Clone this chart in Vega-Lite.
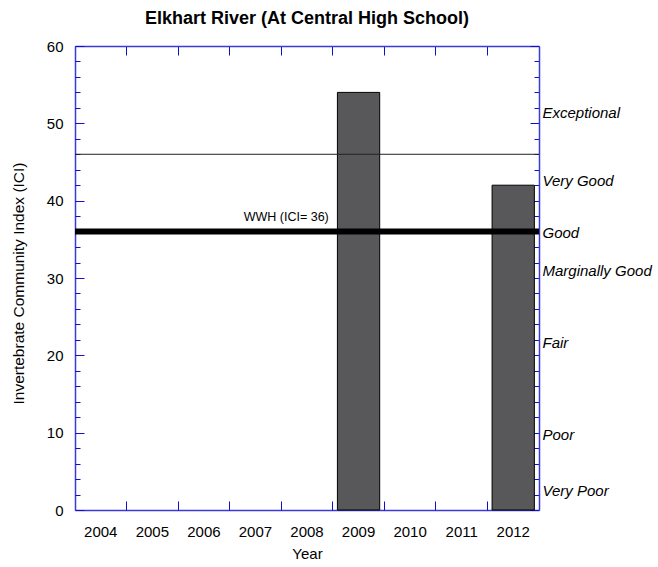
{
  "$schema": "https://vega.github.io/schema/vega-lite/v6.json",
  "width": 464,
  "height": 464,
  "autosize": "none",
  "padding": {"left": 75, "top": 46, "right": 119, "bottom": 57},
  "background": "white",
  "config": {
    "font": "Liberation Sans",
    "view": {"stroke": null},
    "axis": {"grid": false, "labelColor": "black", "titleColor": "black", "labelFont": "Liberation Sans", "titleFont": "Liberation Sans", "titleFontWeight": "normal", "domainColor": "#3a3ad6", "tickColor": "#1010cc", "domainWidth": 1.5, "tickWidth": 1}
  },
  "title": {"text": "Elkhart River (At Central High School)", "fontSize": 18, "fontWeight": "bold", "font": "Liberation Sans", "anchor": "middle", "offset": 11, "color": "black"},
  "datasets": {
    "bars": [
      {"year": "2004", "ici": null},
      {"year": "2005", "ici": null},
      {"year": "2006", "ici": null},
      {"year": "2007", "ici": null},
      {"year": "2008", "ici": null},
      {"year": "2009", "ici": 54},
      {"year": "2010", "ici": null},
      {"year": "2011", "ici": null},
      {"year": "2012", "ici": 42}
    ],
    "lines": [
      {"year": "2009", "ici": 36, "label": "WWH (ICI= 36)"}
    ]
  },
  "resolve": {"axis": {"x": "independent", "y": "independent"}},
  "layer": [
    {
      "data": {"name": "bars"},
      "mark": {"type": "bar", "fill": "#58585a", "stroke": "black", "strokeWidth": 1, "width": {"band": 0.82}},
      "encoding": {
        "x": {"field": "year", "type": "ordinal", "sort": null,
          "scale": {"type": "band", "paddingInner": 0, "paddingOuter": 0, "domain": ["2004", "2005", "2006", "2007", "2008", "2009", "2010", "2011", "2012"]},
          "axis": {"orient": "bottom", "title": "Year", "ticks": false, "domain": true, "labelAngle": 0, "labelFontSize": 15, "labelPadding": 14, "titleFontSize": 15, "titlePadding": 7}},
        "y": {"field": "ici", "type": "quantitative",
          "scale": {"domain": [0, 60], "nice": false, "zero": true},
          "axis": {"orient": "left", "title": "Invertebrate Community Index (ICI)", "values": [0, 10, 20, 30, 40, 50, 60], "ticks": false, "domain": true, "labelFontSize": 15, "labelPadding": 12, "titleFontSize": 15.5, "titlePadding": 20, "titleY": 237}}
      }
    },
    {
      "data": {"name": "bars"},
      "mark": {"type": "bar", "opacity": 0, "width": {"band": 0.82}},
      "encoding": {
        "x": {"field": "year", "type": "ordinal", "sort": null,
          "scale": {"type": "band", "paddingInner": 0, "paddingOuter": 0},
          "axis": {"orient": "bottom", "title": null, "labels": false, "domain": false, "ticks": true, "bandPosition": 0, "tickSize": -9}},
        "y": {"field": "ici", "type": "quantitative",
          "axis": {"orient": "left", "title": null, "labels": false, "domain": false, "values": [0,2,4,6,8,10,12,14,16,18,20,22,24,26,28,30,32,34,36,38,40,42,44,46,48,50,52,54,56,58,60],
            "tickSize": {"condition": {"test": "datum.value % 10 === 0", "value": -9}, "value": -5}}}
      }
    },
    {
      "data": {"name": "bars"},
      "mark": {"type": "bar", "opacity": 0, "width": {"band": 0.82}},
      "encoding": {
        "x": {"field": "year", "type": "ordinal", "sort": null,
          "scale": {"type": "band", "paddingInner": 0, "paddingOuter": 0},
          "axis": {"orient": "top", "title": null, "labels": false, "domain": true, "ticks": true, "bandPosition": 0, "tickSize": -9}},
        "y": {"field": "ici", "type": "quantitative",
          "axis": {"orient": "right", "title": null, "labels": false, "domain": true, "values": [0,2,4,6,8,10,12,14,16,18,20,22,24,26,28,30,32,34,36,38,40,42,44,46,48,50,52,54,56,58,60],
            "tickSize": {"condition": {"test": "datum.value % 10 === 0", "value": -9}, "value": -5}}}
      }
    },
    {
      "data": {"name": "bars"},
      "mark": {"type": "bar", "opacity": 0, "width": {"band": 0.82}},
      "encoding": {
        "x": {"field": "year", "type": "ordinal", "sort": null, "axis": null,
          "scale": {"type": "band", "paddingInner": 0, "paddingOuter": 0}},
        "y": {"field": "ici", "type": "quantitative",
          "axis": {"orient": "right", "title": null, "ticks": false, "domain": false,
            "values": [51.4, 42.6, 35.9, 31.0, 21.6, 9.7, 2.5],
            "labelExpr": "datum.value == 51.4 ? 'Exceptional' : datum.value == 42.6 ? 'Very Good' : datum.value == 35.9 ? 'Good' : datum.value == 31 ? 'Marginally Good' : datum.value == 21.6 ? 'Fair' : datum.value == 9.7 ? 'Poor' : 'Very Poor'",
            "labelFontSize": 15, "labelFontStyle": "italic", "labelPadding": 3, "labelAlign": "left", "labelBaseline": "middle"}}
      }
    },
    {
      "data": {"values": [{"ici": 46}]},
      "mark": {"type": "rule", "color": "#222222", "strokeWidth": 1},
      "encoding": {"y": {"field": "ici", "type": "quantitative", "axis": null}}
    },
    {
      "data": {"name": "lines"},
      "mark": {"type": "rule", "color": "black", "strokeWidth": 6},
      "encoding": {"y": {"field": "ici", "type": "quantitative", "axis": null}}
    },
    {
      "data": {"name": "lines"},
      "mark": {"type": "text", "align": "right", "baseline": "bottom", "fontSize": 12.5, "dx": -4, "dy": -8, "color": "black", "font": "Liberation Sans"},
      "encoding": {
        "x": {"field": "year", "type": "ordinal", "bandPosition": 0, "axis": null,
          "scale": {"type": "band", "paddingInner": 0, "paddingOuter": 0}},
        "y": {"field": "ici", "type": "quantitative", "axis": null},
        "text": {"field": "label"}
      }
    }
  ]
}
